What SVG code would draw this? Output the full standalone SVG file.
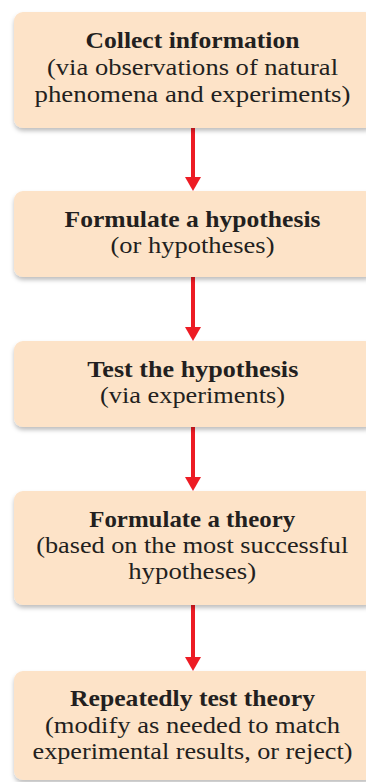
<svg xmlns="http://www.w3.org/2000/svg" width="366" height="782" viewBox="0 0 366 782">
<defs>
<filter id="sh" x="-10%" y="-10%" width="120%" height="130%">
<feDropShadow dx="0" dy="3" stdDeviation="2" flood-color="#000" flood-opacity="0.25"/>
</filter>
<marker id="ah" viewBox="0 0 14 16" refX="0" refY="8" markerWidth="14" markerHeight="16" markerUnits="userSpaceOnUse" orient="auto">
<path d="M0,0 L14,8 L0,16 Z" fill="#ed1c24"/>
</marker>
<style>
.box{fill:#fde3c8;filter:url(#sh)}
text{font-family:"Liberation Serif","Times New Roman",serif;font-size:22.5px;fill:#231f20;text-anchor:middle}
.b{font-weight:bold}
.c{stroke:#ed1c24;stroke-width:4;fill:none;marker-end:url(#ah)}
</style>
</defs>
<rect width="366" height="782" fill="#fff"/>
<g id="connectors">
<path class="c" d="M193,128 V177"/>
<path class="c" d="M193,277 V327"/>
<path class="c" d="M193,427 V477"/>
<path class="c" d="M193,605 V657"/>
</g>
<g id="n1">
<rect class="box" x="14" y="12" width="360" height="116" rx="9"/>
<text class="b" x="192.5" y="48.3" textLength="214" lengthAdjust="spacingAndGlyphs">Collect information</text>
<text x="192.5" y="75" textLength="291" lengthAdjust="spacingAndGlyphs">(via observations of natural</text>
<text x="192.5" y="101.5" textLength="316" lengthAdjust="spacingAndGlyphs">phenomena and experiments)</text>
</g>
<g id="n2">
<rect class="box" x="14" y="191" width="360" height="86" rx="9"/>
<text class="b" x="192.5" y="226.7" textLength="256" lengthAdjust="spacingAndGlyphs">Formulate a hypothesis</text>
<text x="192.5" y="253.3" textLength="164" lengthAdjust="spacingAndGlyphs">(or hypotheses)</text>
</g>
<g id="n3">
<rect class="box" x="14" y="341" width="360" height="86" rx="9"/>
<text class="b" x="192.8" y="376.7" textLength="211" lengthAdjust="spacingAndGlyphs">Test the hypothesis</text>
<text x="192.5" y="402.7" textLength="185" lengthAdjust="spacingAndGlyphs">(via experiments)</text>
</g>
<g id="n4">
<rect class="box" x="14" y="491" width="360" height="114" rx="9"/>
<text class="b" x="192.2" y="526.7" textLength="206" lengthAdjust="spacingAndGlyphs">Formulate a theory</text>
<text x="192.2" y="553.3" textLength="312" lengthAdjust="spacingAndGlyphs">(based on the most successful</text>
<text x="192.2" y="579.3" textLength="128" lengthAdjust="spacingAndGlyphs">hypotheses)</text>
</g>
<g id="n5">
<rect class="box" x="14" y="671" width="360" height="109" rx="9"/>
<text class="b" x="192.5" y="706" textLength="245" lengthAdjust="spacingAndGlyphs">Repeatedly test theory</text>
<text x="192.5" y="732.7" textLength="295" lengthAdjust="spacingAndGlyphs">(modify as needed to match</text>
<text x="192.5" y="759.3" textLength="320" lengthAdjust="spacingAndGlyphs">experimental results, or reject)</text>
</g>
</svg>
